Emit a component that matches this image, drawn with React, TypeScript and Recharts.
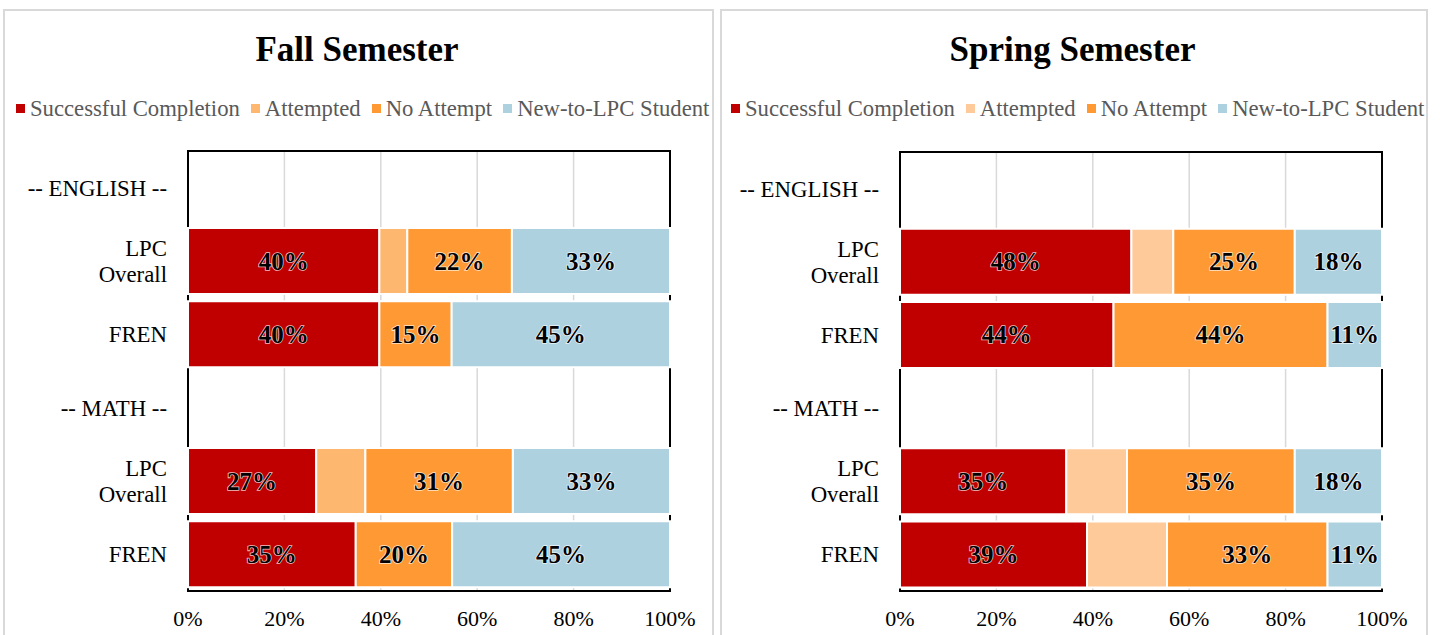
import React from 'react';
import {
  BarChart,
  Bar,
  XAxis,
  YAxis,
  CartesianGrid,
  LabelList,
  ReferenceArea
} from 'recharts';

const FONT = "'Times New Roman', 'Liberation Serif', serif";

// row labels (header rows carry no bars)
const categories = ['-- ENGLISH --', 'LPC\nOverall', 'FREN', '-- MATH --', 'LPC\nOverall', 'FREN'];
const xTicks = [0, 20, 40, 60, 80, 100];

const seriesNames = ['Successful Completion', 'Attempted', 'No Attempt', 'New-to-LPC Student'];

// Fall semester shares (%)
const fallSuccess = [0, 39.7, 39.7, 0, 26.6, 34.8];
const fallAttempted = [0, 5.8, 0, 0, 10.2, 0];
const fallNoAttempt = [0, 21.7, 15.0, 0, 30.6, 20.0];
const fallNew = [0, 32.8, 45.3, 0, 32.6, 45.2];

// Spring semester shares (%)
const springSuccess = [0, 48.0, 44.3, 0, 34.5, 38.8];
const springAttempted = [0, 8.7, 0, 0, 12.6, 16.6];
const springNoAttempt = [0, 25.2, 44.4, 0, 34.8, 33.3];
const springNew = [0, 18.1, 11.3, 0, 18.1, 11.3];

const fallColors = ['#C00000', '#FDB76E', '#FF9933', '#AED1DF'];
const springColors = ['#C00000', '#FFCA99', '#FF9933', '#AED1DF'];

const buildRows = (s: number[], a: number[], n: number[], w: number[]) =>
  categories.map((name, i) => ({
    name,
    success: s[i],
    attempted: a[i],
    noAttempt: n[i],
    newStudent: w[i]
  }));

const fallData = buildRows(fallSuccess, fallAttempted, fallNoAttempt, fallNew);
const springData = buildRows(springSuccess, springAttempted, springNoAttempt, springNew);

const keys = ['success', 'attempted', 'noAttempt', 'newStudent'];

const CategoryTick = ({ x, y, payload }: any) => {
  const lines = String(payload.value).split('\n');
  const lh = 26;
  const firstDy = 8 - ((lines.length - 1) * lh) / 2;
  return (
    <text x={x} y={y} textAnchor="end" fontSize={22.8} fontFamily={FONT} fill="#000">
      {lines.map((line, i) => (
        <tspan key={i} x={x} dy={i === 0 ? firstDy : lh}>
          {line}
        </tspan>
      ))}
    </text>
  );
};

const renderValue = (props: any) => {
  const { x, y, width, height, value } = props;
  if (!value) return null;
  return (
    <text
      x={x + width / 2}
      y={y + height / 2 + 8.5}
      textAnchor="middle"
      fontSize={25}
      fontWeight="bold"
      fontFamily={FONT}
      fill="#000"
      stroke="#fff"
      strokeWidth={1.6}
      strokeOpacity={0.75}
      paintOrder="stroke"
    >
      {Math.round(value)}%
    </text>
  );
};

function LegendRow({ colors, left }: { colors: string[]; left: number }) {
  return (
    <div
      style={{
        position: 'absolute',
        left,
        top: 97,
        display: 'flex',
        alignItems: 'center',
        whiteSpace: 'nowrap',
        fontFamily: FONT,
        fontSize: 22.7,
        lineHeight: '23px',
        color: '#595959'
      }}
    >
      {seriesNames.map((name, i) => (
        <span key={name} style={{ display: 'flex', alignItems: 'center', marginRight: 11 }}>
          <span
            style={{ width: 9, height: 9, background: colors[i], marginRight: 5, display: 'inline-block' }}
          />
          {name}
        </span>
      ))}
    </div>
  );
}

interface PanelProps {
  title: string;
  data: any[];
  colors: string[];
  left: number;
  width: number;
  marginLeft: number;
  marginRight: number;
  marginTop: number;
  legendLeft: number;
}

function Panel({ title, data, colors, left, width, marginLeft, marginRight, marginTop, legendLeft }: PanelProps) {
  return (
    <>
      <div
        style={{
          position: 'absolute',
          left: left + 3,
          top: 9,
          width: width - 3,
          height: 640,
          border: '2px solid #D9D9D9',
          boxSizing: 'border-box'
        }}
      />
      <div
        style={{
          position: 'absolute',
          left,
          top: 32,
          width,
          textAlign: 'center',
          fontFamily: FONT,
          fontWeight: 'bold',
          fontSize: 35,
          lineHeight: '35px',
          color: '#000'
        }}
      >
        {title}
      </div>
      <LegendRow colors={colors} left={legendLeft} />
      <div style={{ position: 'absolute', left, top: 0 }}>
        <BarChart
          width={width}
          height={635}
          data={data}
          layout="vertical"
          barCategoryGap="5%"
          margin={{ top: marginTop, right: marginRight, bottom: 4, left: marginLeft }}
        >
          <CartesianGrid horizontal={false} stroke="#D9D9D9" strokeWidth={1.5} />
          <XAxis
            type="number"
            domain={[0, 100]}
            ticks={xTicks}
            tickFormatter={(v) => `${v}%`}
            axisLine={false}
            tickLine={false}
            tickSize={0}
            tickMargin={19}
            height={40}
            interval={0}
            tick={{ fontSize: 22, fill: '#000', fontFamily: FONT }}
          />
          <YAxis
            type="category"
            dataKey="name"
            width={180}
            axisLine={false}
            tickLine={false}
            tickSize={0}
            tickMargin={21}
            interval={0}
            tick={<CategoryTick />}
          />
          {keys.map((k, i) => (
            <Bar
              key={k}
              dataKey={k}
              name={seriesNames[i]}
              stackId="a"
              fill={colors[i]}
              stroke="#fff"
              strokeWidth={2}
              isAnimationActive={false}
            >
              {k !== 'attempted' && <LabelList dataKey={k} content={renderValue} />}
            </Bar>
          ))}
          <ReferenceArea x1={0} x2={100} fill="none" stroke="#000" strokeWidth={2} ifOverflow="visible" />
        </BarChart>
      </div>
    </>
  );
}

export default function App() {
  return (
    <div
      style={{
        position: 'absolute',
        left: 0,
        top: 0,
        width: 1440,
        height: 635,
        overflow: 'hidden',
        background: '#fff'
      }}
    >
      <Panel
        title="Fall Semester"
        data={fallData}
        colors={fallColors}
        left={0}
        width={714}
        marginLeft={8}
        marginRight={44}
        marginTop={151}
        legendLeft={16}
      />
      <Panel
        title="Spring Semester"
        data={springData}
        colors={springColors}
        left={717}
        width={711}
        marginLeft={3}
        marginRight={46}
        marginTop={152}
        legendLeft={731}
      />
    </div>
  );
}
